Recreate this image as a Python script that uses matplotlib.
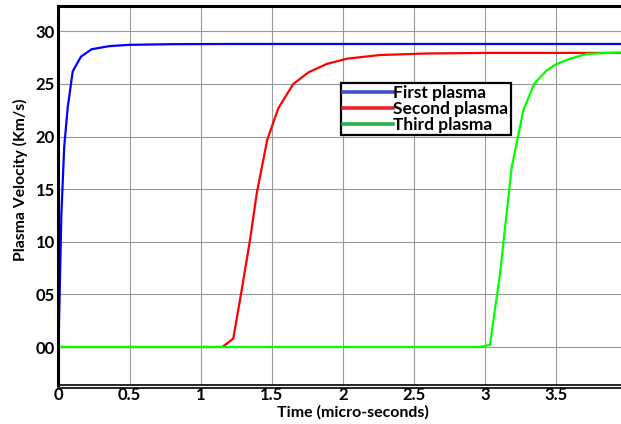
import matplotlib
matplotlib.use("Agg")
import matplotlib.pyplot as plt
from matplotlib.lines import Line2D

plt.rcParams['font.family'] = ['Lato', 'DejaVu Sans']
plt.rcParams['font.weight'] = 'bold'

# time in micro-seconds, velocity in km/s
t_first = [0, 0.02, 0.04, 0.065, 0.1, 0.158, 0.233, 0.36, 0.5, 0.8, 1.2, 4.0]
v_first = [0, 12.5, 19.0, 22.8, 26.2, 27.6, 28.3, 28.6, 28.72, 28.78, 28.8, 28.8]

t_second = [0, 1.152, 1.229, 1.288, 1.347, 1.394, 1.468, 1.546, 1.651, 1.757,
            1.886, 2.027, 2.26, 2.6, 3.0, 4.0]
v_second = [0, 0, 0.8, 5.4, 10.2, 14.6, 19.7, 22.7, 25.0, 26.1,
            26.9, 27.4, 27.75, 27.9, 27.95, 27.95]

t_third = [0, 2.96, 3.034, 3.105, 3.187, 3.269, 3.344, 3.433, 3.503, 3.597,
           3.714, 3.85, 4.0]
v_third = [0, 0, 0.2, 7.0, 17.1, 22.5, 25.0, 26.3, 26.9, 27.4,
           27.85, 27.95, 28.0]

labels = ['First plasma', 'Second plasma', 'Third plasma']
line_colors = ['#0000ff', '#ff0000', '#00ff00']
legend_colors = ['#4050d0', '#e82028', '#28b050']

xticks = [0, 0.5, 1, 1.5, 2, 2.5, 3, 3.5, 4]
xticklabels = ['0', '0.5', '1', '1.5', '2', '2.5', '3', '3.5', '']
yticks = [0, 5, 10, 15, 20, 25, 30]
yticklabels = ['00', '05', '10', '15', '20', '25', '30']

fig = plt.figure(figsize=(6.21, 4.24), dpi=100)
ax = fig.add_axes([0.0942, 0.092, 0.916, 0.8946])

for t, v, c in zip([t_first, t_second, t_third], [v_first, v_second, v_third], line_colors):
    ax.plot(t, v, color=c, lw=1.6, solid_joinstyle='miter')

ax.set_xlim(0, 4)
ax.set_ylim(-3.61, 32.44)
ax.set_xticks(xticks)
ax.set_xticklabels(xticklabels)
ax.set_yticks(yticks)
ax.set_yticklabels(yticklabels)
ax.tick_params(length=0, labelsize=12, pad=2.5)
ax.tick_params(axis='x', pad=1.5)
for lab in ax.get_xticklabels() + ax.get_yticklabels():
    lab.set_fontweight('bold')

ax.grid(True, color='#999999', lw=0.8)
ax.set_axisbelow(True)

ax.spines['left'].set_linewidth(2.2)
ax.spines['top'].set_linewidth(2.2)
ax.spines['bottom'].set_linewidth(1.2)
ax.spines['right'].set_visible(False)
# second line under the bottom spine
ax.plot([0, 1], [-0.0075, -0.0075], transform=ax.transAxes, color='black',
        lw=1.2, clip_on=False)

handles = [Line2D([], [], color=c, lw=2.6) for c in legend_colors]
leg = ax.legend(handles, labels, loc='upper left', bbox_to_anchor=(0.4967, 0.797),
                borderaxespad=0, fancybox=False, framealpha=1, edgecolor='black',
                handlelength=2.9, handletextpad=0.0, borderpad=0.12,
                labelspacing=0.0, prop={'weight': 'bold', 'size': 12.5})
leg.get_frame().set_linewidth(1.6)

fig.text(20 / 621, 1 - 180 / 424, 'Plasma Velocity (Km/s)', rotation=90,
         ha='center', va='center', fontsize=11.3, fontweight='bold')
fig.text(353 / 621, 1 - 412 / 424, 'Time (micro-seconds)', ha='center',
         va='center', fontsize=11.5, fontweight='bold')

fig.savefig('out.png', dpi=100)
